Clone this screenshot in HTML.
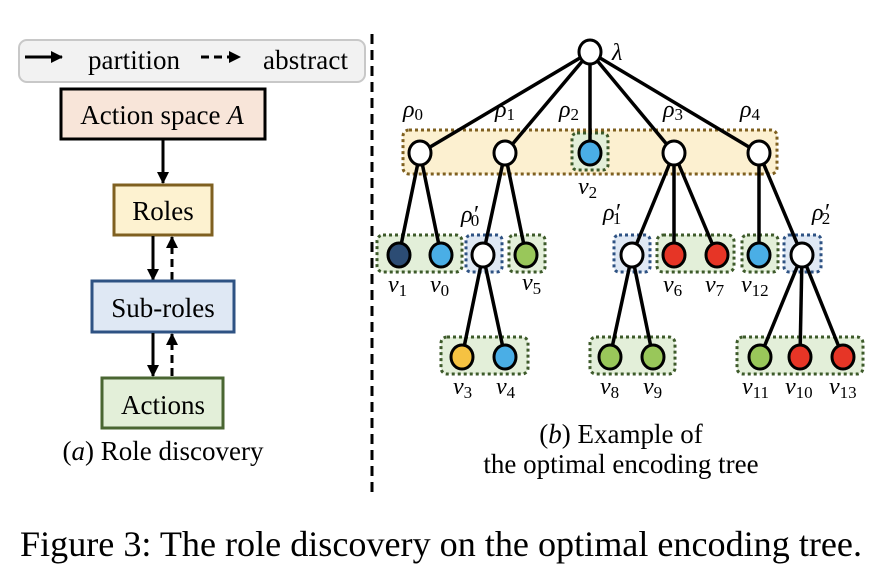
<!DOCTYPE html>
<html><head><meta charset="utf-8"><style>
body{margin:0;background:#fff;}
svg text{font-family:"Liberation Serif",serif;fill:#000;}
.it{font-style:italic;}
</style></head><body>
<svg width="882" height="582" viewBox="0 0 882 582" xmlns="http://www.w3.org/2000/svg">
<defs>
<marker id="ah2" markerWidth="12" markerHeight="12" refX="11" refY="6" orient="auto" markerUnits="userSpaceOnUse"><path d="M0,0 L12,6 L0,12 Z" fill="#000"/></marker>
</defs>
<!-- left panel -->
<rect x="19" y="40" width="346" height="42" rx="8" fill="#f2f2f2" stroke="#c8c8c8" stroke-width="2"/>
<line x1="25" y1="57" x2="62" y2="57" stroke="#000" stroke-width="3" marker-end="url(#ah2)"/>
<text x="88" y="69" font-size="27" textLength="92">partition</text>
<line x1="201" y1="57" x2="240" y2="57" stroke="#000" stroke-width="3" stroke-dasharray="8,5" marker-end="url(#ah2)"/>
<text x="263" y="69" font-size="27" textLength="85">abstract</text>
<rect x="61" y="89" width="204" height="50" fill="#f8e5d9" stroke="#000" stroke-width="3"/>
<text x="162" y="124" font-size="27" text-anchor="middle">Action space <tspan class="it">A</tspan></text>
<line x1="163" y1="140" x2="163" y2="183" stroke="#000" stroke-width="3" marker-end="url(#ah2)"/>
<rect x="114" y="185" width="98" height="50" fill="#fdf2d0" stroke="#7f6020" stroke-width="3"/>
<text x="163" y="220" font-size="27" text-anchor="middle">Roles</text>
<line x1="153" y1="236" x2="153" y2="280" stroke="#000" stroke-width="3" marker-end="url(#ah2)"/>
<line x1="172" y1="280" x2="172" y2="237" stroke="#000" stroke-width="3" stroke-dasharray="8,5" marker-end="url(#ah2)"/>
<rect x="92" y="281" width="142" height="51" fill="#dfe8f4" stroke="#2e5283" stroke-width="3"/>
<text x="163" y="317" font-size="27" text-anchor="middle">Sub-roles</text>
<line x1="153" y1="333" x2="153" y2="376" stroke="#000" stroke-width="3" marker-end="url(#ah2)"/>
<line x1="172" y1="376" x2="172" y2="334" stroke="#000" stroke-width="3" stroke-dasharray="8,5" marker-end="url(#ah2)"/>
<rect x="102" y="378" width="121" height="50" fill="#e3efd9" stroke="#4a6632" stroke-width="3"/>
<text x="163" y="414" font-size="27" text-anchor="middle">Actions</text>
<text x="163" y="460" font-size="27" text-anchor="middle">(<tspan class="it">a</tspan>) Role discovery</text>
<line x1="372" y1="34" x2="372" y2="492" stroke="#000" stroke-width="3" stroke-dasharray="10,6"/>
<!-- boxes -->
<g stroke-width="3" stroke-dasharray="3,3">
<rect x="403" y="130" width="374" height="44" rx="6" fill="#fcf0d0" stroke="#7f6020"/>
<rect x="572" y="133" width="36" height="37" rx="5" fill="#e3efd9" stroke="#3d5a2a"/>
<rect x="377" y="235" width="85" height="37" rx="6" fill="#e3efd9" stroke="#3d5a2a"/>
<rect x="466" y="235" width="36" height="37" rx="5" fill="#dfe8f4" stroke="#2e5283"/>
<rect x="509" y="235" width="36" height="37" rx="5" fill="#e3efd9" stroke="#3d5a2a"/>
<rect x="614" y="235" width="36" height="37" rx="5" fill="#dfe8f4" stroke="#2e5283"/>
<rect x="657" y="235" width="77" height="37" rx="6" fill="#e3efd9" stroke="#3d5a2a"/>
<rect x="742" y="235" width="36" height="37" rx="5" fill="#e3efd9" stroke="#3d5a2a"/>
<rect x="784" y="235" width="37" height="37" rx="5" fill="#dfe8f4" stroke="#2e5283"/>
<rect x="441" y="337" width="87" height="37" rx="6" fill="#e3efd9" stroke="#3d5a2a"/>
<rect x="590" y="337" width="85" height="37" rx="6" fill="#e3efd9" stroke="#3d5a2a"/>
<rect x="737" y="337" width="126" height="37" rx="6" fill="#e3efd9" stroke="#3d5a2a"/>
</g>
<!-- edges -->
<g stroke="#000" stroke-width="3.5">
<line x1="590" y1="52" x2="420" y2="153"/><line x1="590" y1="52" x2="505" y2="153"/><line x1="590" y1="52" x2="590" y2="153"/><line x1="590" y1="52" x2="674" y2="153"/><line x1="590" y1="52" x2="759" y2="153"/>
<line x1="420" y1="153" x2="399" y2="255"/><line x1="420" y1="153" x2="441" y2="255"/>
<line x1="505" y1="153" x2="483" y2="255"/><line x1="505" y1="153" x2="526" y2="255"/>
<line x1="674" y1="153" x2="632" y2="255"/><line x1="674" y1="153" x2="674" y2="255"/><line x1="674" y1="153" x2="717" y2="255"/>
<line x1="759" y1="153" x2="759" y2="255"/><line x1="759" y1="153" x2="802" y2="255"/>
<line x1="483" y1="255" x2="462" y2="357"/><line x1="483" y1="255" x2="505" y2="357"/>
<line x1="632" y1="255" x2="610" y2="357"/><line x1="632" y1="255" x2="653" y2="357"/>
<line x1="802" y1="255" x2="760" y2="357"/><line x1="802" y1="255" x2="800" y2="357"/><line x1="802" y1="255" x2="843" y2="357"/>
</g>
<!-- nodes -->
<g stroke="#000" stroke-width="3">
<ellipse cx="590" cy="52" rx="11" ry="12" fill="#fff"/>
<ellipse cx="420" cy="153" rx="11" ry="12" fill="#fff"/>
<ellipse cx="505" cy="153" rx="11" ry="12" fill="#fff"/>
<ellipse cx="590" cy="153" rx="11" ry="12" fill="#4aaee6"/>
<ellipse cx="674" cy="153" rx="11" ry="12" fill="#fff"/>
<ellipse cx="759" cy="153" rx="11" ry="12" fill="#fff"/>
<ellipse cx="399" cy="255" rx="11" ry="12" fill="#2c4c74"/>
<ellipse cx="441" cy="255" rx="11" ry="12" fill="#4aaee6"/>
<ellipse cx="483" cy="255" rx="11" ry="12" fill="#fff"/>
<ellipse cx="526" cy="255" rx="11" ry="12" fill="#99c75a"/>
<ellipse cx="632" cy="255" rx="11" ry="12" fill="#fff"/>
<ellipse cx="674" cy="255" rx="11" ry="12" fill="#e63526"/>
<ellipse cx="717" cy="255" rx="11" ry="12" fill="#e63526"/>
<ellipse cx="759" cy="255" rx="11" ry="12" fill="#4aaee6"/>
<ellipse cx="802" cy="255" rx="11" ry="12" fill="#fff"/>
<ellipse cx="462" cy="357" rx="11" ry="12" fill="#f5c242"/>
<ellipse cx="505" cy="357" rx="11" ry="12" fill="#4aaee6"/>
<ellipse cx="610" cy="357" rx="11" ry="12" fill="#99c75a"/>
<ellipse cx="653" cy="357" rx="11" ry="12" fill="#99c75a"/>
<ellipse cx="760" cy="357" rx="11" ry="12" fill="#99c75a"/>
<ellipse cx="800" cy="357" rx="11" ry="12" fill="#e63526"/>
<ellipse cx="843" cy="357" rx="11" ry="12" fill="#e63526"/>
</g>
<!-- labels -->
<g font-size="24">
<text x="612" y="60" class="it">λ</text>
<text x="403" y="117" class="it">ρ<tspan font-size="17" font-style="normal" dy="3">0</tspan></text>
<text x="495" y="117" class="it">ρ<tspan font-size="17" font-style="normal" dy="3">1</tspan></text>
<text x="559" y="117" class="it">ρ<tspan font-size="17" font-style="normal" dy="3">2</tspan></text>
<text x="663" y="117" class="it">ρ<tspan font-size="17" font-style="normal" dy="3">3</tspan></text>
<text x="740" y="117" class="it">ρ<tspan font-size="17" font-style="normal" dy="3">4</tspan></text>
<text x="578" y="194" class="it">ν<tspan font-size="17" font-style="normal" dy="4">2</tspan></text>
<text x="461" y="222" class="it">ρ′<tspan font-size="17" font-style="normal" dy="4" dx="-7">0</tspan></text>
<text x="603" y="220" class="it">ρ′<tspan font-size="17" font-style="normal" dy="4" dx="-7">1</tspan></text>
<text x="812" y="220" class="it">ρ′<tspan font-size="17" font-style="normal" dy="4" dx="-7">2</tspan></text>
<text x="388" y="292" class="it">ν<tspan font-size="17" font-style="normal" dy="4">1</tspan></text>
<text x="430" y="292" class="it">ν<tspan font-size="17" font-style="normal" dy="4">0</tspan></text>
<text x="522" y="290" class="it">ν<tspan font-size="17" font-style="normal" dy="4">5</tspan></text>
<text x="663" y="292" class="it">ν<tspan font-size="17" font-style="normal" dy="4">6</tspan></text>
<text x="705" y="292" class="it">ν<tspan font-size="17" font-style="normal" dy="4">7</tspan></text>
<text x="741" y="292" class="it">ν<tspan font-size="17" font-style="normal" dy="4">12</tspan></text>
<text x="453" y="394" class="it">ν<tspan font-size="17" font-style="normal" dy="4">3</tspan></text>
<text x="496" y="394" class="it">ν<tspan font-size="17" font-style="normal" dy="4">4</tspan></text>
<text x="600" y="394" class="it">ν<tspan font-size="17" font-style="normal" dy="4">8</tspan></text>
<text x="643" y="394" class="it">ν<tspan font-size="17" font-style="normal" dy="4">9</tspan></text>
<text x="742" y="394" class="it">ν<tspan font-size="17" font-style="normal" dy="4">11</tspan></text>
<text x="785" y="394" class="it">ν<tspan font-size="17" font-style="normal" dy="4">10</tspan></text>
<text x="829" y="394" class="it">ν<tspan font-size="17" font-style="normal" dy="4">13</tspan></text>
</g>
<text x="621" y="443" font-size="27" text-anchor="middle">(<tspan class="it">b</tspan>) Example of</text>
<text x="621" y="473" font-size="27" text-anchor="middle">the optimal encoding tree</text>
<text x="20" y="556" font-size="36" textLength="842" lengthAdjust="spacingAndGlyphs">Figure 3: The role discovery on the optimal encoding tree.</text>
</svg>
</body></html>
